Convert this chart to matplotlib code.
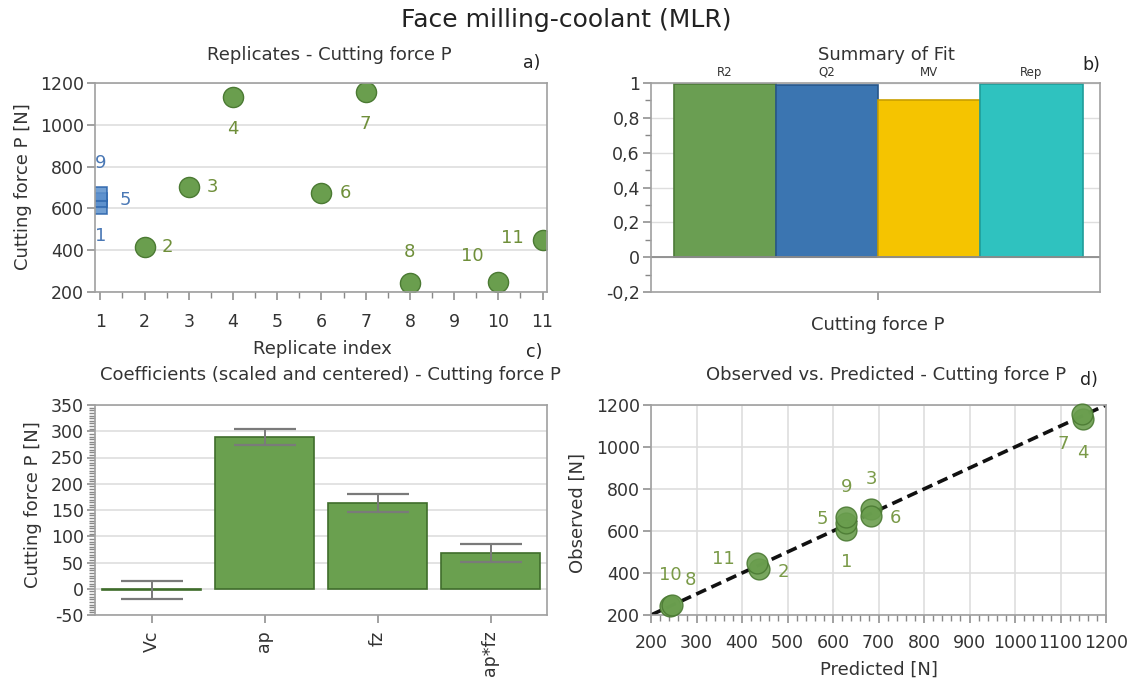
import numpy as np
import matplotlib
matplotlib.use('Agg')
import matplotlib.pyplot as plt
from matplotlib.ticker import MultipleLocator, FuncFormatter

plt.rcParams['axes.unicode_minus'] = False

# run data
runs        = [1, 2, 3, 4, 5, 6, 7, 8, 9, 10, 11]
rep_index   = [1, 2, 3, 4, 1, 6, 7, 8, 1, 10, 11]
center_pt   = [True, False, False, False, True, False, False, False, True, False, False]
observed    = [605, 417, 704, 1135, 638, 672, 1155, 243, 667, 250, 450]
predicted   = [629, 438, 684, 1150, 629, 684, 1148, 242, 629, 246, 432]

# summary of fit
fit_names   = ['R2', 'Q2', 'MV', 'Rep']
fit_values  = [0.995, 0.99, 0.905, 0.993]

# coefficients
coef_names  = ['Vc', 'ap', 'fz', 'ap*fz']
coef_values = [-3, 289, 163, 68]
coef_err    = [17, 16, 17, 17]

W, H = 1132, 682
fig = plt.figure(figsize=(W/100, H/100), dpi=100)

def rect(l, t, r, b):
    return [l/W, 1-b/H, (r-l)/W, (b-t)/H]

def ftext(x, y, s, **kw):
    kw.setdefault('ha', 'center')
    kw.setdefault('va', 'center')
    kw.setdefault('color', '#333333')
    fig.text(x/W, 1-y/H, s, **kw)

spine_c = '#a0a0a0'
grid_c  = '#dedede'
green   = '#6a9e4e'
green_e = '#4b7a33'
lab_g   = '#6f8f3a'
lab_b   = '#4a78b5'

def style(ax):
    for s in ax.spines.values():
        s.set_color(spine_c)
        s.set_linewidth(1.2)
    ax.tick_params(which='major', length=6, width=1.1, color='#888888',
                   labelcolor='#333333', labelsize=12.5, pad=2)
    ax.tick_params(which='minor', length=4, width=1.0, color='#888888')
    ax.set_axisbelow(True)

# ---------- a) replicates
ax = fig.add_axes(rect(95, 83, 547, 292))
style(ax)
ax.set_xlim(0.88, 11.1)
ax.set_ylim(200, 1200)
ax.xaxis.set_major_locator(MultipleLocator(1))
ax.xaxis.set_minor_locator(MultipleLocator(0.5))
ax.yaxis.set_major_locator(MultipleLocator(200))
ax.tick_params(axis='x', pad=9)
ax.grid(axis='y', color=grid_c, lw=1.2)

off_a = {1: (0, -29), 2: (23, 0), 3: (24, 0), 4: (0, -32), 5: (25, 0), 6: (24, 0),
         7: (0, -32), 8: (0, 31), 9: (0, 31), 10: (-26, 26), 11: (-30, 2)}
for r, x, y, c in zip(runs, rep_index, observed, center_pt):
    if c:
        ax.plot(x, y, 's', ms=10.5, mfc='#5b8fcc', mec='#2a63ab', mew=1.2, alpha=0.85)
        col = lab_b
    else:
        ax.plot(x, y, 'o', ms=14.5, mfc=green, mec=green_e, mew=1.0)
        col = lab_g
    dx, dy = off_a[r]
    ax.annotate(str(r), (x, y), xytext=(dx*0.72, dy*0.72), textcoords='offset points',
                ha='center', va='center', fontsize=13, color=col, annotation_clip=False)

ftext(329, 55, 'Replicates - Cutting force P', fontsize=13)
ftext(532, 63, 'a)', fontsize=12.5, color='#222222')
ftext(23, 187, 'Cutting force P [N]', rotation=90, fontsize=13)
ftext(322, 349, 'Replicate index', fontsize=13)

# ---------- b) summary of fit
ax = fig.add_axes(rect(651, 83, 1100, 292))
style(ax)
fit_colors = ['#6a9e52', '#3b75b1', '#f5c400', '#2fc2bf']
fit_edges  = ['#4d7a38', '#27568a', '#c99f00', '#1f9d9a']
pos = np.arange(len(fit_names))
ax.bar(pos, fit_values, width=1.0, color=fit_colors, edgecolor=fit_edges, lw=1.2)
ax.axhline(0, color='#8c8c8c', lw=1.3)
ax.set_xlim(-0.72, 3.67)
ax.set_ylim(-0.2, 1.0)
ax.yaxis.set_major_locator(MultipleLocator(0.2))
ax.yaxis.set_minor_locator(MultipleLocator(0.1))
ax.yaxis.set_major_formatter(FuncFormatter(lambda v, p: ('%g' % round(v, 2)).replace('.', ',')))
ax.set_xticks([1.5])
ax.set_xticklabels(['Cutting force P'], fontsize=13)
ax.tick_params(axis='x', pad=11)
ax.grid(axis='y', color=grid_c, lw=1.0)
for p, n in zip(pos, fit_names):
    ax.annotate(n, (p, 1.0), xycoords=('data', 'axes fraction'), xytext=(0, 3),
                textcoords='offset points', ha='center', va='bottom', fontsize=8.5,
                color='#333333')
ftext(886, 55, 'Summary of Fit', fontsize=13)
ftext(1091, 65, 'b)', fontsize=12.5, color='#222222')

# ---------- c) coefficients
ax = fig.add_axes(rect(95, 405, 547, 615))
style(ax)
cpos = np.arange(len(coef_names))
ax.bar(cpos, coef_values, width=0.88, color='#6aa04f', edgecolor='#3f6d2b', lw=1.2)
ax.errorbar(cpos, coef_values, yerr=coef_err, fmt='none', ecolor='#7a7a7a',
            elinewidth=1.4, capsize=22, capthick=1.6)
ax.set_xlim(-0.5, 3.5)
ax.set_ylim(-50, 350)
ax.yaxis.set_major_locator(MultipleLocator(50))
ax.yaxis.set_minor_locator(MultipleLocator(5))
ax.set_xticks(cpos)
ax.set_xticklabels(coef_names, rotation=90, fontsize=12.5)
ax.tick_params(axis='x', pad=5)
ax.grid(axis='y', color=grid_c, lw=1.2)
ftext(330, 375, 'Coefficients (scaled and centered) - Cutting force P', fontsize=13)
ftext(534, 352, 'c)', fontsize=12.5, color='#222222')
ftext(33, 505, 'Cutting force P [N]', rotation=90, fontsize=13)

# ---------- d) observed vs predicted
ax = fig.add_axes(rect(651, 405, 1106, 615))
style(ax)
ax.set_xlim(200, 1200)
ax.set_ylim(200, 1200)
ax.xaxis.set_major_locator(MultipleLocator(100))
ax.xaxis.set_minor_locator(MultipleLocator(20))
ax.yaxis.set_major_locator(MultipleLocator(200))
ax.tick_params(axis='x', pad=8)
ax.grid(True, color=grid_c, lw=1.2)
ax.plot([200, 1200], [200, 1200], color='#111111', ls=(0, (3, 1.6)), lw=2.6, zorder=2)
ax.plot(predicted, observed, 'o', ms=15, mfc=green, mec=green_e, mew=1.0,
        alpha=0.9, zorder=3, clip_on=False)
off_d = {1: (0, -32), 2: (24, -3), 3: (0, 30), 4: (0, -34), 5: (-24, 4), 6: (24, -2),
         7: (-19, -30), 8: (20, 26), 9: (0, 30), 10: (-2, 30), 11: (-33, 4)}
for r, x, y in zip(runs, predicted, observed):
    dx, dy = off_d[r]
    ax.annotate(str(r), (x, y), xytext=(dx*0.72, dy*0.72), textcoords='offset points',
                ha='center', va='center', fontsize=13, color='#7a9a48', zorder=4)
ftext(886, 375, 'Observed vs. Predicted - Cutting force P', fontsize=13)
ftext(1089, 380, 'd)', fontsize=12.5, color='#222222')
ftext(578, 513, 'Observed [N]', rotation=90, fontsize=13)
ftext(879, 670, 'Predicted [N]', fontsize=13)

ftext(566, 20, 'Face milling-coolant (MLR)', fontsize=18, color='#222222')

plt.savefig('out.png', dpi=100)
plt.close()
